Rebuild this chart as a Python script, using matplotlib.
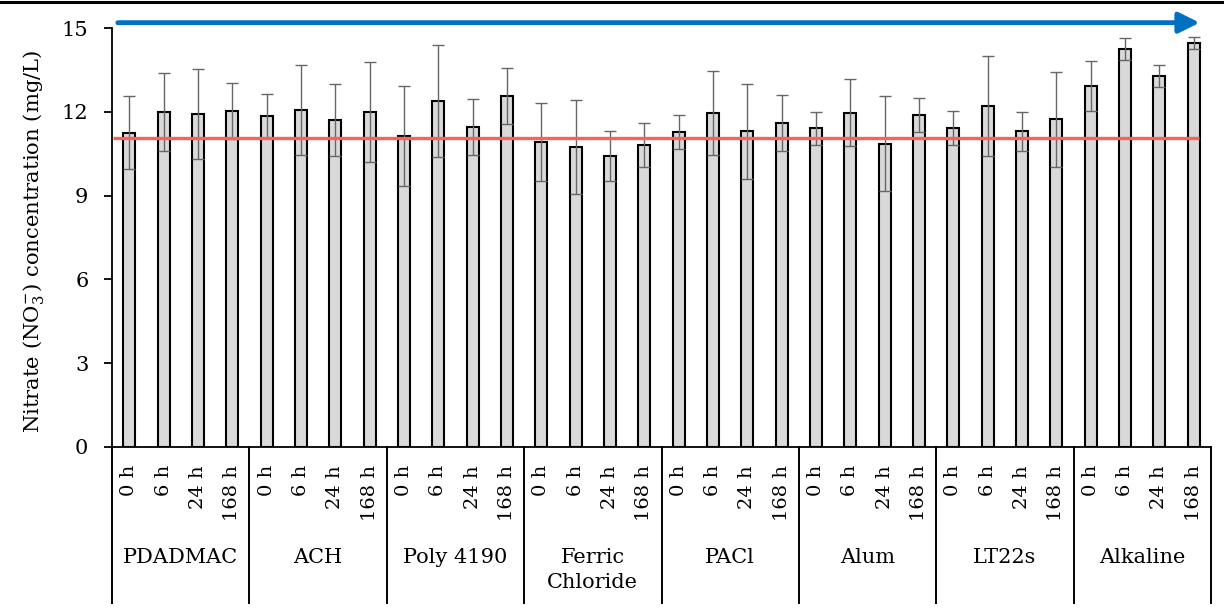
import matplotlib
matplotlib.use("Agg")
import matplotlib.pyplot as plt
import matplotlib.transforms as mtransforms
from matplotlib.lines import Line2D
import numpy as np

# ---- data ----
groups = ['PDADMAC', 'ACH', 'Poly 4190', 'Ferric\nChloride', 'PACl', 'Alum', 'LT22s', 'Alkaline']
times = ['0 h', '6 h', '24 h', '168 h']

pdadmac = [11.25, 11.99, 11.92, 12.04]
ach = [11.85, 12.07, 11.70, 11.99]
poly4190 = [11.13, 12.39, 11.45, 12.58]
ferric = [10.92, 10.74, 10.42, 10.81]
pacl = [11.27, 11.97, 11.30, 11.59]
alum = [11.41, 11.97, 10.85, 11.89]
lt22s = [11.42, 12.20, 11.31, 11.74]
alkaline = [12.93, 14.24, 13.27, 14.46]

pdadmac_err = [1.31, 1.40, 1.60, 1.00]
ach_err = [0.79, 1.60, 1.30, 1.80]
poly4190_err = [1.80, 2.00, 1.00, 1.00]
ferric_err = [1.40, 1.70, 0.90, 0.80]
pacl_err = [0.60, 1.50, 1.70, 1.00]
alum_err = [0.60, 1.20, 1.70, 0.60]
lt22s_err = [0.60, 1.80, 0.70, 1.70]
alkaline_err = [0.90, 0.40, 0.40, 0.20]

reference_level = 11.07
arrow_level = 15.19

values = pdadmac + ach + poly4190 + ferric + pacl + alum + lt22s + alkaline
errors = pdadmac_err + ach_err + poly4190_err + ferric_err + pacl_err + alum_err + lt22s_err + alkaline_err
tick_labels = times * len(groups)

# ---- figure ----
plt.rcParams['font.family'] = ['DejaVu Serif']
plt.rcParams['mathtext.fontset'] = 'dejavuserif'

fig = plt.figure(figsize=(12.24, 6.08), dpi=100)
ax = fig.add_axes([112 / 1224, 1 - 447 / 608, (1211 - 112) / 1224, (447 - 28) / 608])

n = len(values)
x = np.arange(n)
ax.bar(x, values, width=0.35, color='#D9D9D9', edgecolor='black', linewidth=1.5, zorder=2)
ax.errorbar(x, values, yerr=errors, fmt='none', ecolor='#666666', elinewidth=1.0,
            capsize=4.5, capthick=1.0, zorder=3)

ax.set_xlim(-0.5, n - 0.5)
ax.set_ylim(0, 15)
ax.set_yticks([0, 3, 6, 9, 12, 15])
ax.tick_params(axis='y', direction='out', length=6, width=1.3, pad=11, labelsize=15)
ax.set_xticks(x)
ax.set_xticklabels(tick_labels, rotation=90, fontsize=14, va='top', ha='center')
ax.tick_params(axis='x', length=0, pad=13)

for s in ['top', 'right']:
    ax.spines[s].set_visible(False)
ax.spines['left'].set_linewidth(1.3)
ax.spines['bottom'].set_linewidth(1.3)

ax.set_ylabel('Nitrate (NO$_3^{-}$) concentration (mg/L)', fontsize=15.2)
ax.yaxis.set_label_coords(-0.059, 0.49)

# reference line
ax.plot([-0.48, n - 0.86], [reference_level, reference_level], color='#FF5E5E', lw=2.4,
        zorder=4, solid_capstyle='butt')

# blue arrow
ax.annotate('', xy=(n - 0.83, arrow_level), xytext=(-0.33, arrow_level),
            arrowprops=dict(arrowstyle='-|>,head_length=1.25,head_width=0.62', lw=3.5,
                            color='#0070C0', shrinkA=0, shrinkB=0),
            annotation_clip=False, zorder=5)

# group dividers and labels
trans = mtransforms.blended_transform_factory(ax.transData, ax.transAxes)
ngroup = len(groups)
per = len(times)
for g in range(ngroup + 1):
    xb = g * per - 0.5
    ax.add_line(Line2D([xb, xb], [0, -0.372], transform=trans, color='black', lw=1.4,
                       clip_on=False))
for g, name in enumerate(groups):
    xc = g * per + (per - 1) / 2
    ax.text(xc, -0.24, name, transform=trans, ha='center', va='top', fontsize=15,
            linespacing=1.45)

# top border line
fig.add_artist(Line2D([0, 1], [0.9975, 0.9975], transform=fig.transFigure, color='black', lw=2.2))

fig.savefig('out.png', dpi=100)
